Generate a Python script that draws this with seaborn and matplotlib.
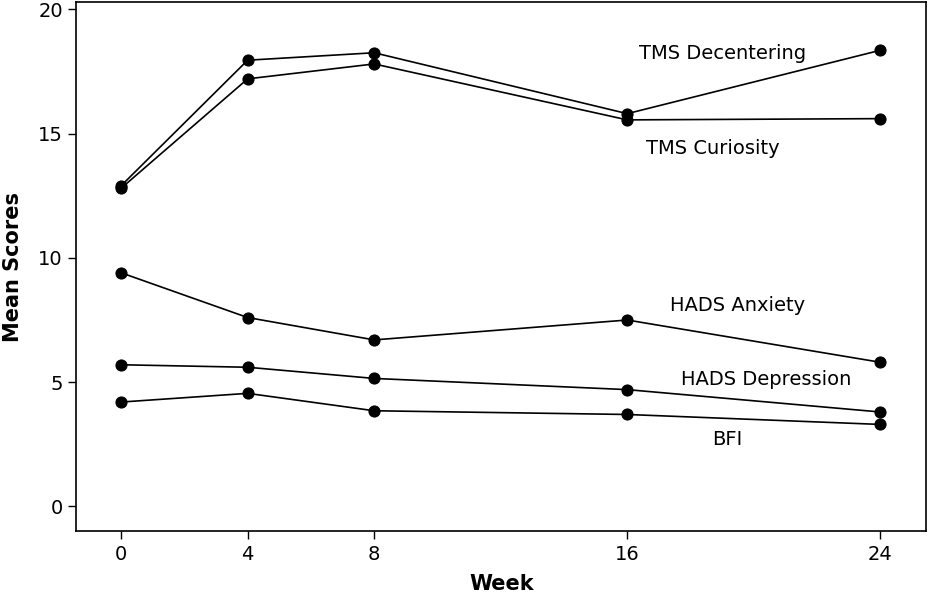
import numpy as np
import pandas as pd
import matplotlib
matplotlib.use("Agg")
import matplotlib.pyplot as plt
import seaborn as sns

# Weeks of assessment
weeks = [0, 4, 8, 16, 24]

# Mean scores
tms_decentering = [12.9, 17.95, 18.25, 15.8, 18.35]
tms_curiosity = [12.8, 17.2, 17.8, 15.55, 15.6]
hads_anxiety = [9.4, 7.6, 6.7, 7.5, 5.8]
hads_depression = [5.7, 5.6, 5.15, 4.7, 3.8]
bfi = [4.2, 4.55, 3.85, 3.7, 3.3]

series_names = ["TMS Decentering", "TMS Curiosity", "HADS Anxiety",
                "HADS Depression", "BFI"]

# label anchor points (data coords)
label_x = [19.0, 18.7, 19.5, 20.4, 19.15]
label_y = [18.2, 14.4, 8.1, 5.1, 2.7]

frames = []
for name, vals in zip(series_names, [tms_decentering, tms_curiosity,
                                     hads_anxiety, hads_depression, bfi]):
    frames.append(pd.DataFrame({"Week": weeks, "Score": vals, "Measure": name}))
data = pd.concat(frames, ignore_index=True)

sns.set_style("ticks")
plt.rcParams['font.family'] = ['DejaVu Sans']
plt.rcParams['text.color'] = 'black'
plt.rcParams['axes.labelcolor'] = 'black'
plt.rcParams['xtick.color'] = 'black'
plt.rcParams['ytick.color'] = 'black'

fig, ax = plt.subplots(figsize=(9.29, 5.95), dpi=100)
sns.lineplot(data=data, x="Week", y="Score", hue="Measure", units="Measure",
             estimator=None, palette=["black"] * 5, marker="o", markersize=8,
             markeredgecolor="black", linewidth=1.2, legend=False, ax=ax)

for name, lx, ly in zip(series_names, label_x, label_y):
    ax.text(lx, ly, name, ha="center", va="center", fontsize=14, color="black")

ax.set_xlim(-1.42, 25.45)
ax.set_ylim(-1.0, 20.3)
ax.set_xticks(weeks)
ax.set_yticks([0, 5, 10, 15, 20])
ax.tick_params(labelsize=14, length=6, width=1, color="black",
               labelcolor="black")
ax.set_xlabel("Week", fontsize=15, fontweight="bold", color="black")
ax.set_ylabel("Mean Scores", fontsize=15, fontweight="bold", color="black")
ax.yaxis.set_label_coords(-0.063, 0.5)
ax.xaxis.set_label_coords(0.5, -0.08)
for side in ["top", "right", "left", "bottom"]:
    ax.spines[side].set_visible(True)
    ax.spines[side].set_color("black")
    ax.spines[side].set_linewidth(1.2)

plt.subplots_adjust(left=0.082, right=0.997, top=0.997, bottom=0.107)
plt.savefig("out.png", dpi=100)
